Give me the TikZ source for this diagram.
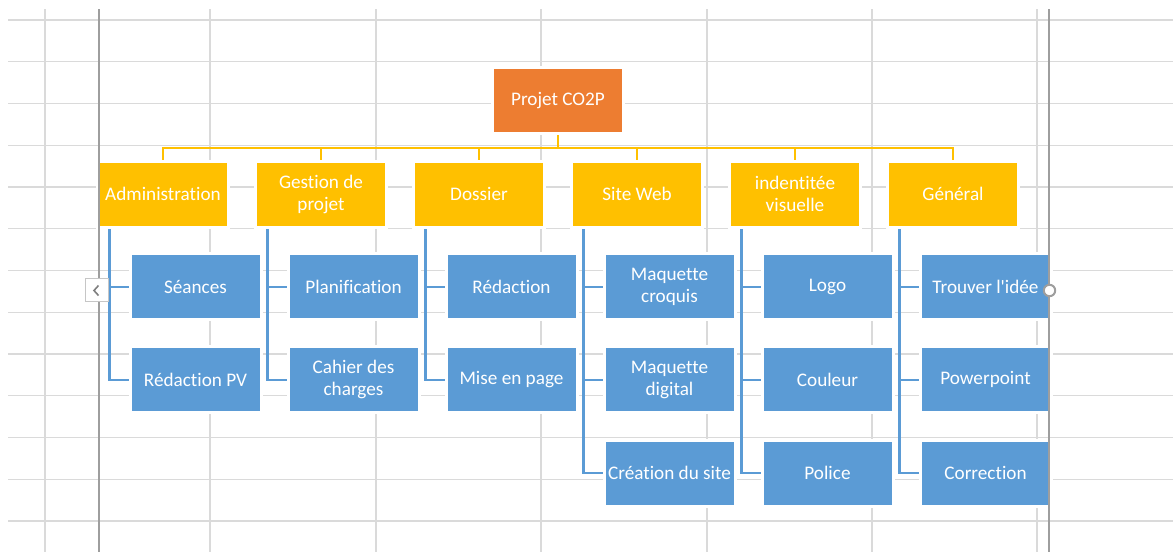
\documentclass[tikz,border=0pt]{standalone}
\usepackage{fontspec}
\setmainfont{Carlito}[Ligatures=NoCommon]
\usetikzlibrary{calc}
\definecolor{rootorange}{HTML}{ED7D31}
\definecolor{groupgold}{HTML}{FFC000}
\definecolor{taskblue}{HTML}{5B9BD5}
\definecolor{gridgray}{HTML}{DADADA}
\definecolor{framegray}{HTML}{9E9E9E}
\definecolor{btngray}{HTML}{C6C6C6}
\definecolor{chevgray}{HTML}{7F7F7F}
\pgfdeclarelayer{grid}
\pgfdeclarelayer{links}
\pgfdeclarelayer{front}
\pgfsetlayers{grid,links,main,front}
\tikzset{
  box/.style={minimum width=65.5pt, minimum height=33pt, inner sep=0pt,
    draw=white, line width=1.5pt, text=white, align=center,
    font=\fontsize{9.6pt}{11pt}\selectfont},
  rootbox/.style={box, fill=rootorange},
  groupbox/.style={box, fill=groupgold},
  taskbox/.style={box, fill=taskblue},
  bus/.style={groupgold, line width=1.25pt},
  link/.style={taskblue, line width=1.1pt},
  gridline/.style={gridgray, line width=0.6pt},
  frameline/.style={framegray, line width=0.6pt},
}
\begin{document}
\begin{tikzpicture}[x=0.5pt,y=-0.5pt]
    \useasboundingbox (0,0) rectangle (1173,552);

    % sheet grid
    \begin{pgfonlayer}{grid}
        \fill[white] (0,0) rectangle (1173,552);
        \foreach \k in {0,...,12}
        {\draw[gridline] (8,20+41.75*\k) -- (1173,20+41.75*\k);}
        \foreach \x in {45,210,376,541,707,872,1037}
        {\draw[gridline] (\x,9) -- (\x,552);}
    \end{pgfonlayer}

    \node[rootbox] (root) at (558,100.5) {Projet CO2P};
    \coordinate (busy) at (558,148);

    \foreach \lab [count=\i from 0] in {Administration,{Gestion de\\projet},Dossier,Site Web,{indentitée\\visuelle},Général}
    {
        \node[groupbox] (g\i) at (163+158*\i,194) {\lab};
        \begin{pgfonlayer}{links}
            \draw[bus] (root.south) -- (root.south |- busy) -| (g\i.north);
        \end{pgfonlayer}
    }

    \foreach \i/\j/\lab in {0/0/Séances,0/1/Rédaction PV,
        1/0/Planification,1/1/{Cahier des\\charges},
        2/0/Rédaction,2/1/Mise en page,
        3/0/{Maquette\\croquis},3/1/{Maquette\\digital},3/2/Création du site,
        4/0/Logo,4/1/Couleur,4/2/Police,
        5/0/Trouver l\textquotesingle idée,5/1/Powerpoint,5/2/Correction}
    {
        \node[taskbox] (t\i-\j) at (195.5+158*\i,286.8+93.1*\j) {\lab};
        \begin{pgfonlayer}{links}
            \draw[link] ($(g\i.south west)+(13.5,0)$) |- (t\i-\j.west);
        \end{pgfonlayer}
    }

    % frame lines, scroll button and handle
    \begin{pgfonlayer}{front}
        \foreach \x in {99,1049}
        {\draw[frameline] (\x,9) -- (\x,552);}
        \node[draw=btngray, fill=white, line width=0.5pt, minimum size=11.5pt, inner sep=0pt] (btn) at (96.5,290) {};
        \draw[chevgray, line width=0.8pt] ($(btn.center)+(2,-4.5)$) -- ($(btn.center)+(-2.5,0.5)$) -- ($(btn.center)+(2,5.5)$);
        \node[circle, draw=framegray, fill=white, line width=1pt, minimum size=5.7pt, inner sep=0pt] (handle) at (1049.5,290.5) {};
    \end{pgfonlayer}
\end{tikzpicture}
\end{document}
